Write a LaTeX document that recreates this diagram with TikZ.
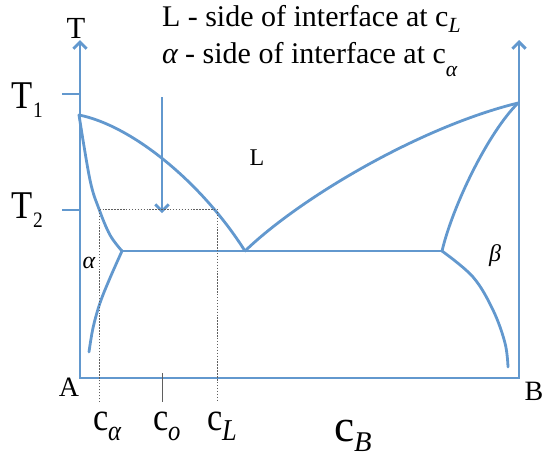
\documentclass[tikz,border=0pt]{standalone}
\usepackage{fontspec}
\setmainfont{Liberation Serif}
\usetikzlibrary{arrows.meta}
\definecolor{lineblue}{RGB}{98,152,206}
\definecolor{guidegray}{RGB}{95,95,95}
\newcommand{\lowsub}[3][0.72]{\raisebox{-#2em}{\scalebox{#1}{#3}}}
\newcommand{\fs}[1]{\fontsize{#1}{#1}\selectfont}
\begin{document}
\begin{tikzpicture}[x=0.75pt,y=-0.75pt,
  phase/.style={draw=lineblue, line width=2.1pt, line join=round, line cap=round},
  axisline/.style={draw=lineblue, line width=2.2pt, line join=miter},
  barb/.style={-{Straight Barb[length=5pt,width=10pt]}},
  guide/.style={draw=guidegray, line width=0.45pt, dash pattern=on 1.1pt off 1.1pt},
  tick/.style={draw=guidegray, line width=0.45pt},
  lbl/.style={inner sep=0pt, outer sep=0pt, text=black}]
\useasboundingbox (0,0) rectangle (543,458);

% axes
\coordinate (Ltop) at (80,40);
\coordinate (Lbot) at (80,378);
\coordinate (Rbot) at (519,378);
\coordinate (Rtop) at (519,40);
\draw[axisline, {Straight Barb[length=5pt,width=10pt]}-{Straight Barb[length=5pt,width=10pt]}] (Ltop) -- (Lbot) -- (Rbot) -- (Rtop);

% temperature ticks
\coordinate (t1a) at (62,94);  \coordinate (t1b) at (80,94);
\coordinate (t2a) at (62,210); \coordinate (t2b) at (80,210);
\draw[phase, line cap=butt] (t1a) -- (t1b);
\draw[phase, line cap=butt] (t2a) -- (t2b);

% key points
\coordinate (MA) at (79,115);
\coordinate (MB) at (518,103);
\coordinate (E) at (245,251);
\coordinate (Ea) at (122,251);
\coordinate (Eb) at (442,251);

% liquidus (left)
\draw[phase] (MA) .. controls (130,125) and (200,180) .. (E);
% solidus alpha
\draw[phase] plot[smooth, tension=0.6] coordinates {(79,115) (90,180) (99,209) (110,235) (122,251)};
% solvus alpha
\draw[phase] plot[smooth, tension=0.6] coordinates {(122,251) (110,278) (100,303) (93,328) (89,352)};
% eutectic line
\draw[phase] (Ea) -- (Eb);
% liquidus (right)
\draw[phase] (E) .. controls (300,198) and (420,127) .. (MB);
% solidus beta
\draw[phase] (MB) .. controls (488,133) and (453,205) .. (Eb);
% solvus beta
\draw[phase] plot[smooth, tension=0.6] coordinates {(442,251) (473,277) (493,310) (505,343) (508,367)};

% cooling arrow
\coordinate (arA) at (162,97);
\coordinate (arB) at (162,213);
\draw[phase, line cap=butt, barb] (arA) -- (arB);

% guide lines
\coordinate (ga) at (99,209);
\coordinate (gb) at (217,209);
\coordinate (gab) at (99,402);
\coordinate (gbb) at (217,402);
\draw[guide] (gab) -- (ga) -- (gb) -- (gbb);
\coordinate (coa) at (162,373);
\coordinate (cob) at (162,402);
\draw[tick] (coa) -- (cob);

% labels
\node[lbl, anchor=base, font=\fs{23}] (Tlab) at (76,38) {T};
\node[lbl, anchor=base west, font=\fs{29.5}] (T1lab) at (12,108) {\scalebox{0.88}[1]{T\lowsub[0.56]{0.25}{1}}};
\node[lbl, anchor=base west, font=\fs{29.5}] (T2lab) at (12,218) {\scalebox{0.88}[1]{T\lowsub[0.56]{0.25}{2}}};
\node[lbl, anchor=base west, font=\fs{22.5}] (line1) at (162,26) {L - side of interface at c\lowsub[0.72]{0.2}{\itshape L}};
\node[lbl, anchor=base west, font=\fs{22.5}] (line2) at (162,63) {{\itshape α} - side of interface at c\lowsub[0.72]{0.45}{\itshape α}};
\node[lbl, font=\fs{18}] (Llab) at (257,158) {L};
\node[lbl, font=\fs{18}] (alab) at (89,263) {\itshape α};
\node[lbl, font=\fs{18}] (blab) at (495,256) {\itshape β};
\node[lbl, font=\fs{21}] (Alab) at (69,387) {A};
\node[lbl, font=\fs{21}] (Blab) at (534,391) {B};
\node[lbl, anchor=base west, font=\fs{29.5}] (calab) at (93,430) {\scalebox{0.87}[1]{c\lowsub{0.27}{\itshape α}}};
\node[lbl, anchor=base west, font=\fs{29.5}] (colab) at (153,430) {\scalebox{0.87}[1]{c\lowsub{0.27}{\itshape o}}};
\node[lbl, anchor=base west, font=\fs{29.5}] (cllab) at (207,430) {\scalebox{0.87}[1]{c\lowsub[0.77]{0.27}{\itshape L}}};
\node[lbl, anchor=base west, font=\fs{34}] (cblab) at (334,441) {c\lowsub[0.63]{0.24}{\itshape B}};
\end{tikzpicture}
\end{document}
